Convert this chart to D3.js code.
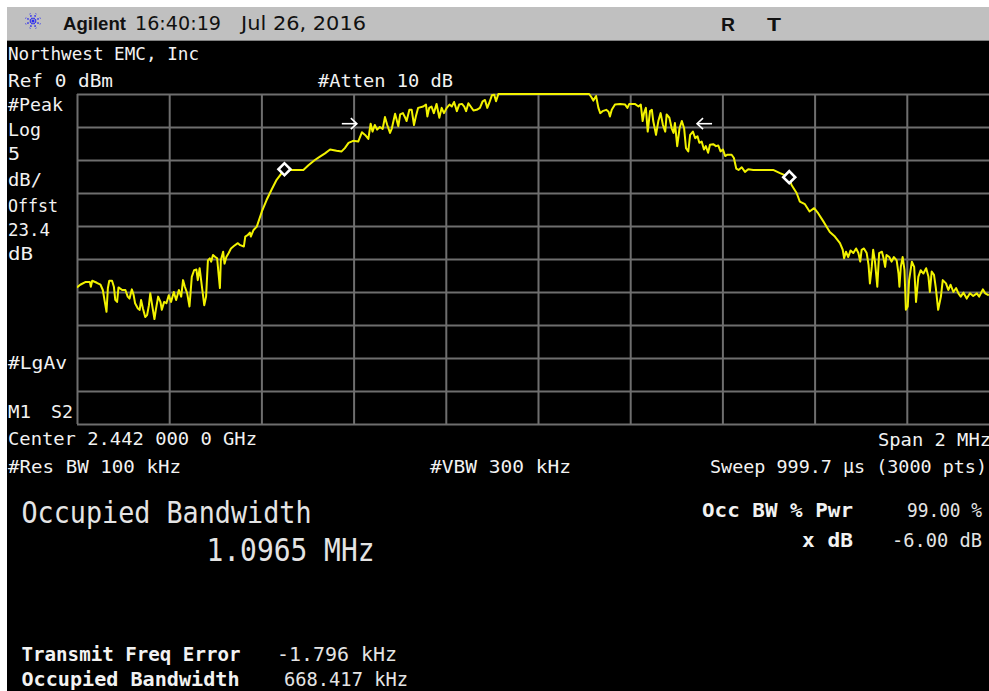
<!DOCTYPE html>
<html><head><meta charset="utf-8">
<script src="https://cdn.jsdelivr.net/npm/d3@7"></script>
<style>
html,body{margin:0;padding:0;background:#fff;}
svg{display:block;}
</style></head>
<body>
<svg id="c" width="989" height="691"></svg>
<script>
// ---- data (frequency offset from center in kHz, level in dBm) ----
const centerGHz = 2.442;
const spanKHz = 2000;
const refLevel = 0;      // dBm
const dbPerDiv = 5;
const divisions = 10;

const freqKHz = [
 -1000,-993,-982,-972,-970,-967,-957,-949,-944,-936,
 -933,-930,-924,-920,-917,-913,-910,-902,-895,-890,
 -886,-881,-877,-874,-868,-864,-861,-857,-852,-848,
 -844,-841,-837,-832,-829,-824,-819,-816,-811,-806,
 -801,-796,-790,-785,-779,-774,-770,-766,-761,-756,
 -751,-746,-741,-738,-734,-729,-724,-720,-716,-712,
 -709,-705,-700,-696,-693,-690,-688,-683,-680,-676,
 -671,-666,-659,-651,-646,-638,-635,-630,-625,-623,
 -617,-610,-599,-589,-578,-567,-556,-550,-538,-509,
 -498,-484,-473,-462,-451,-437,-426,-419,-411,-401,
 -390,-382,-375,-368,-363,-359,-354,-349,-343,-337,
 -332,-327,-321,-317,-310,-303,-299,-293,-288,-285,
 -279,-274,-269,-265,-260,-249,-243,-240,-236,-231,
 -226,-220,-214,-209,-204,-198,-192,-187,-182,-176,
 -171,-165,-160,-156,-151,-146,-140,-133,-126,-120,
 -115,-110,-106,-100,-95,-91,-86,
 111,116,120,126,131,135,140,148,153,156,
 160,167,178,189,194,198,210,218,223,227,
 230,234,238,243,247,250,256,261,266,271,
 276,279,285,290,294,297,302,307,312,317,
 321,326,330,336,341,346,350,355,360,364,
 369,373,380,386,391,396,401,406,411,420,
 425,430,435,442,449,456,467,510,525,545,
 550,561,568,579,589,599,608,619,626,633,
 644,655,661,664,668,673,678,684,690,695,
 699,702,707,713,717,720,724,727,731,736,
 740,746,749,753,756,762,767,772,778,782,
 784,787,791,795,798,802,805,811,816,820,
 825,830,836,842,847,850,854,859,863,868,
 874,878,885,890,895,901,907,912,917,923,
 930,937,944,952,957,965,970,978
];
const levelDbm = [
 -29.3,-28.9,-28.5,-28.5,-29.2,-28.3,-28.6,-28.9,-29.7,-33.0,
 -29.4,-28.3,-28.3,-29.2,-31.2,-31.5,-29.3,-29.7,-29.7,-30.7,
 -31.0,-29.6,-30.5,-31.7,-32.5,-32.7,-31.2,-32.5,-33.8,-33.5,
 -32.0,-30.2,-32.0,-34.1,-32.7,-30.7,-31.5,-32.7,-31.5,-31.7,
 -30.5,-31.5,-30.0,-31.2,-29.7,-30.7,-28.2,-29.2,-30.2,-32.2,
 -27.7,-26.7,-26.6,-28.2,-26.4,-29.2,-32.0,-30.7,-25.2,-24.9,
 -25.4,-24.4,-24.7,-24.9,-27.2,-29.4,-25.2,-23.9,-25.7,-24.7,
 -24.1,-23.4,-23.0,-22.6,-22.9,-23.1,-21.6,-21.4,-21.0,-21.6,
 -20.6,-20.1,-17.8,-16.1,-14.5,-13.0,-12.0,-11.4,-11.5,-11.5,
 -10.8,-10.0,-9.5,-9.0,-8.4,-8.6,-8.7,-8.2,-7.4,-7.1,
 -7.2,-5.8,-6.2,-6.8,-4.5,-5.7,-4.7,-5.4,-5.0,-5.3,
 -3.5,-4.7,-5.9,-5.2,-3.0,-4.9,-3.1,-2.9,-3.6,-4.1,
 -2.4,-2.4,-4.7,-3.4,-2.1,-1.9,-1.6,-3.4,-2.1,-1.9,
 -2.9,-1.5,-3.6,-2.1,-2.9,-2.1,-1.6,-1.9,-1.2,-2.6,
 -1.6,-1.5,-1.9,-2.6,-1.4,-1.9,-2.5,-2.4,-2.1,-1.1,
 -0.9,-2.1,-1.4,-0.2,-0.1,-1.1,0,
 0,-0.5,-1.0,-0.3,-2.1,-2.9,-2.6,-2.4,-2.7,-3.4,
 -2.4,-1.6,-1.5,-1.6,-2.1,-1.5,-1.5,-1.9,-1.6,-4.1,
 -2.9,-2.1,-5.7,-2.6,-2.4,-4.1,-6.2,-4.1,-2.9,-4.7,
 -5.7,-3.1,-3.6,-5.2,-5.9,-4.4,-7.9,-5.2,-4.1,-5.2,
 -8.2,-8.7,-6.2,-5.7,-6.7,-6.4,-7.4,-7.2,-8.4,-7.9,
 -8.9,-7.7,-7.6,-7.9,-7.8,-8.7,-8.4,-9.4,-9.2,-9.2,
 -9.7,-11.3,-11.5,-11.1,-11.8,-11.4,-11.5,-11.5,-12.0,-12.6,
 -13.8,-15.0,-16.3,-16.7,-17.8,-17.3,-18.1,-19.3,-20.1,-20.9,
 -21.6,-22.6,-23.6,-24.9,-23.9,-24.7,-23.7,-24.1,-23.4,-24.1,
 -25.4,-23.6,-23.4,-24.1,-25.9,-28.7,-26.2,-23.6,-25.4,-29.2,
 -24.1,-23.9,-24.7,-26.2,-24.4,-24.7,-25.4,-24.7,-25.2,-27.2,
 -29.2,-26.2,-24.7,-26.7,-32.7,-32.2,-28.2,-25.4,-26.2,-31.5,
 -27.7,-26.7,-27.2,-26.4,-27.7,-30.0,-26.9,-27.4,-29.4,-32.7,
 -30.7,-28.2,-28.7,-29.7,-28.9,-30.0,-29.4,-30.2,-30.7,-30.1,
 -31.0,-30.2,-30.6,-30.2,-30.7,-29.6,-30.2,-30.5
];
// occupied-bandwidth markers (diamonds) and x-dB arrows
const markerFreq = [-550, 545];
const markerLevel = [-11.4, -12.6];
const arrowFreq = [-393, 345];
const arrowDir = [1, -1];
const arrowLevel = [-4.5, -4.5];

// ---- text ----
const headerTexts = [
  {t:"Agilent", x:63, y:30, w:63, f:"'Liberation Sans', Arial, sans-serif", s:19, b:true},
  {t:"16:40:19", x:135, y:30, w:86, f:"'DejaVu Sans', sans-serif", s:19, b:false},
  {t:"Jul 26, 2016", x:241, y:30, w:125, f:"'DejaVu Sans', sans-serif", s:19, b:false},
  {t:"R", x:721, y:30.5, w:14, f:"'Liberation Sans', Arial, sans-serif", s:19, b:true},
  {t:"T", x:767, y:30.5, w:14, f:"'Liberation Sans', Arial, sans-serif", s:19, b:true}
];
const screenTexts = [
  {t:"Northwest EMC, Inc", x:8, y:60, w:191},
  {t:"Ref 0 dBm", x:8, y:87, w:105},
  {t:"#Atten 10 dB", x:318, y:87, w:135},
  {t:"#Peak", x:8, y:111, w:55},
  {t:"Log", x:8, y:135.7, w:33},
  {t:"5", x:8, y:160.4, w:12},
  {t:"dB/", x:8, y:186, w:34},
  {t:"Offst", x:8, y:212, w:50},
  {t:"23.4", x:8, y:236, w:42},
  {t:"dB", x:8, y:259.5, w:25},
  {t:"#LgAv", x:8, y:369, w:59},
  {t:"M1", x:8, y:418, w:23},
  {t:"S2", x:51, y:418, w:22},
  {t:"Center 2.442 000 0 GHz", x:8, y:445, w:249},
  {t:"Span 2 MHz", x:878, y:446, w:113},
  {t:"#Res BW 100 kHz", x:8, y:473, w:173},
  {t:"#VBW 300 kHz", x:430, y:473, w:141},
  {t:"Sweep 999.7 \u03bcs (3000 pts)", x:710, y:473, w:277}
];
const resultTexts = [
  {t:"Occupied Bandwidth", x:21.5, y:523, w:290, s:31, b:false},
  {t:"1.0965 MHz", x:206.5, y:561, w:168, s:32, b:false},
  {t:"Occ BW % Pwr", x:702, y:517, w:151, s:19, b:true},
  {t:"99.00 %", x:907, y:517, w:75, s:19, b:false},
  {t:"x dB", x:802, y:546.5, w:51, s:19, b:true},
  {t:"-6.00 dB", x:892, y:546.5, w:90, s:19, b:false},
  {t:"Transmit Freq Error", x:21.5, y:661, w:219, s:20, b:true},
  {t:"-1.796 kHz", x:277, y:661, w:120, s:19, b:false},
  {t:"Occupied Bandwidth", x:21.5, y:686, w:218, s:19.5, b:true},
  {t:"668.417 kHz", x:284, y:686, w:124, s:19, b:false}
];

const svg = d3.select("#c");
const W = 989, H = 691;
const mono = "'DejaVu Sans Mono', 'Liberation Mono', monospace";

// backgrounds
svg.append("rect").attr("x",0).attr("y",0).attr("width",W).attr("height",H).attr("fill","#ffffff");
svg.append("rect").attr("x",7).attr("y",7).attr("width",W-7).attr("height",34).attr("fill","#c0c0c0");
svg.append("rect").attr("x",7).attr("y",41).attr("width",W-7).attr("height",H-41).attr("fill","#000000");
svg.append("line").attr("x1",7).attr("x2",W).attr("y1",40.5).attr("y2",40.5).attr("stroke","#808080").attr("stroke-width",1);

// Agilent logo (starburst)
const logo = svg.append("g").attr("transform","translate(33,21)");
d3.range(0, 8).forEach(i => {
  const a = i * Math.PI / 4 + Math.PI/8;
  logo.append("line").attr("x1",Math.cos(a)*2).attr("y1",Math.sin(a)*2)
    .attr("x2",Math.cos(a)*8).attr("y2",Math.sin(a)*8)
    .attr("stroke","#2a2af0").attr("stroke-width",1.6).attr("stroke-dasharray","1.5,1.2");
});
logo.append("circle").attr("r",1.5).attr("fill","#2a2af0");

headerTexts.forEach(d => {
  svg.append("text").attr("x",d.x).attr("y",d.y).text(d.t)
    .attr("font-family",d.f).attr("font-size",d.s).attr("font-weight",d.b?"bold":"normal")
    .attr("fill","#111").attr("textLength",d.w).attr("lengthAdjust","spacingAndGlyphs");
});

// ---- plot ----
const plot = {left:77, top:94, width:922, height:330};
const x = d3.scaleLinear().domain([-spanKHz/2, spanKHz/2]).range([plot.left, plot.left+plot.width]);
const y = d3.scaleLinear().domain([refLevel - dbPerDiv*divisions, refLevel]).range([plot.top+plot.height, plot.top]);

const gridCol = "#6e6e6e";
const xAxis = d3.axisBottom(x).tickValues(d3.range(-spanKHz/2, spanKHz/2+1, spanKHz/divisions))
  .tickSize(-plot.height).tickFormat("");
const yAxis = d3.axisLeft(y).tickValues(d3.range(refLevel - dbPerDiv*divisions, refLevel+0.1, dbPerDiv))
  .tickSize(-plot.width).tickFormat("");
const gx = svg.append("g").attr("transform",`translate(0,${plot.top+plot.height})`).call(xAxis);
const gy = svg.append("g").attr("transform",`translate(${plot.left},0)`).call(yAxis);
[gx, gy].forEach(g => {
  g.select(".domain").remove();
  g.selectAll(".tick line").attr("stroke",gridCol).attr("stroke-width",2);
});

svg.append("clipPath").attr("id","clip").append("rect")
  .attr("x",plot.left).attr("y",plot.top-1).attr("width",plot.width).attr("height",plot.height+1);

const trace = freqKHz.map((f,i) => ({f, v: levelDbm[i]}));
const line = d3.line().x(d => x(d.f)).y(d => y(Math.min(d.v, refLevel)));
svg.append("path").datum(trace).attr("clip-path","url(#clip)")
  .attr("d", line).attr("fill","none").attr("stroke","#f2f200")
  .attr("stroke-width",2).attr("stroke-linejoin","round");

// markers (diamonds)
markerFreq.forEach((f,i) => {
  svg.append("path").attr("d", d3.symbol().type(d3.symbolSquare).size(72)())
    .attr("transform",`translate(${x(f)},${y(markerLevel[i])}) rotate(45)`)
    .attr("fill","#000").attr("stroke","#fff").attr("stroke-width",2.6);
});

// x dB arrows
arrowFreq.forEach((f,i) => {
  const tx = x(f), ty = y(arrowLevel[i]), d = arrowDir[i];
  const g = svg.append("g").attr("stroke","#fff").attr("stroke-width",1.6).attr("fill","none");
  g.append("line").attr("x1",tx - d*15).attr("x2",tx).attr("y1",ty).attr("y2",ty);
  g.append("polyline").attr("points",`${tx-d*6},${ty-5.5} ${tx},${ty} ${tx-d*6},${ty+5.5}`);
});

// screen annotations
screenTexts.forEach(d => {
  svg.append("text").attr("x",d.x).attr("y",d.y).text(d.t)
    .attr("font-family",mono).attr("font-size",18.5)
    .attr("fill","#f2f2f2").attr("textLength",d.w).attr("lengthAdjust","spacingAndGlyphs");
});
resultTexts.forEach(d => {
  svg.append("text").attr("x",d.x).attr("y",d.y).text(d.t)
    .attr("font-family",mono).attr("font-size",d.s).attr("font-weight",d.b?"bold":"normal")
    .attr("fill",d.b?"#f2f2f2":"#e4e4e4").attr("textLength",d.w).attr("lengthAdjust","spacingAndGlyphs");
});
</script>
</body></html>
